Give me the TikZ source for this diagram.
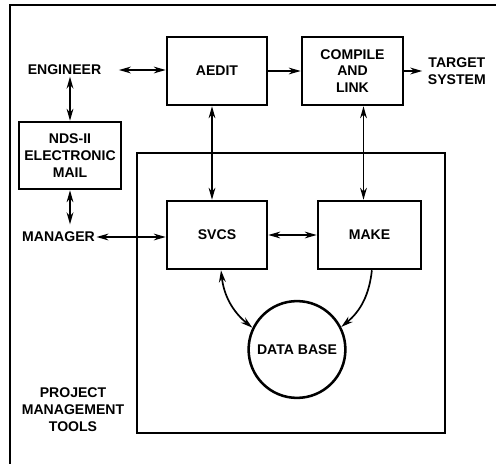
\documentclass[tikz,border=0pt]{standalone}
\usepackage{fontspec}
\setmainfont{Liberation Sans}
\usepackage{tikz}
\usetikzlibrary{positioning,arrows.meta,calc}
\tikzset{
    block/.style={
        rectangle,
        draw=black,
        minimum height=1.7cm,
        minimum width=2.5cm,
        align=center,
        line width=1.8pt,
        font=\fontsize{10}{12}\selectfont\bfseries,
    },
    dbcircle/.style={
        circle,
        draw=black,
        minimum size=2.42cm,
        inner sep=0pt,
        line width=1.8pt,
        font=\fontsize{10}{12}\selectfont\bfseries,
    },
    label/.style={
        align=center,
        inner sep=1pt,
        font=\fontsize{10}{12}\selectfont\bfseries,
    },
    frame/.style={
        line width=1.4pt,
    },
    flow/.style={
        -{Stealth[length=3mm,width=1.7mm]},
        line width=1.2pt,
    },
    biflow/.style={
        {Stealth[length=3mm,width=1.7mm]}-{Stealth[length=3mm,width=1.7mm]},
        line width=1.2pt,
    },
}
\begin{document}
\begin{tikzpicture}
    \useasboundingbox (0,0) rectangle (12.4,-11.6);
    % Page frame (top and left only)
    \draw[frame] (12.4,-0.125) -- (0.25,-0.125) -- (0.25,-11.6);

    % Tool blocks
    \node[block] (aedit) at (5.425, -1.775) {AEDIT};
    \node[block, minimum width=2.525cm] (compile) at (8.8125, -1.775) {COMPILE\\AND\\LINK};
    \node[block, minimum height=1.675cm, minimum width=2.55cm] (mail) at (1.75, -3.8875) {NDS-II\\ELECTRONIC\\MAIL};

    % Project management tools
    \draw[line width=1.8pt] (3.425,-3.825) rectangle (11.125,-10.825);
    \node[block] (svcs) at (5.425, -5.875) {SVCS};
    \node[block, minimum width=2.575cm] (make) at (9.2375, -5.875) {MAKE};
    \node[dbcircle] (db) at (7.425, -8.7375) {DATA BASE};
    \node[label] (pmt) at (1.825, -10.25) {PROJECT\\MANAGEMENT\\TOOLS};

    % People and target
    \node[label] (engineer) at (1.6125, -1.75) {ENGINEER};
    \node[label] (manager) at (1.4625, -5.925) {MANAGER};
    \node[label, right=0.55cm of compile] (target) {TARGET\\SYSTEM};

    % Connections
    \draw[biflow] ([xshift=0.4cm]engineer.east) -- (aedit.west |- engineer);
    \draw[flow] (aedit.east) -- (compile.west);
    \draw[flow] (compile.east) -- ([xshift=-0.1cm]target.west);
    \draw[biflow] (engineer.south -| mail.north) -- (mail.north);
    \draw[biflow] (mail.south) -- ([yshift=0.15cm]mail.south |- manager.north);
    \draw[biflow] (manager.east) -- (svcs.west |- manager);
    \draw[biflow] ([xshift=-0.125cm]aedit.south) -- ([xshift=-0.125cm]svcs.north);
    \draw[biflow] ([xshift=-0.15cm]make.north |- compile.south) -- ([xshift=-0.15cm]make.north);
    \draw[biflow] (svcs.east) -- (make.west);
    \draw[biflow] ([xshift=0.1cm]svcs.south) to[bend right=22] (db.154);
    \draw[flow] ([xshift=0.06cm]make.south) to[bend left=22] (db.27);
\end{tikzpicture}
\end{document}
